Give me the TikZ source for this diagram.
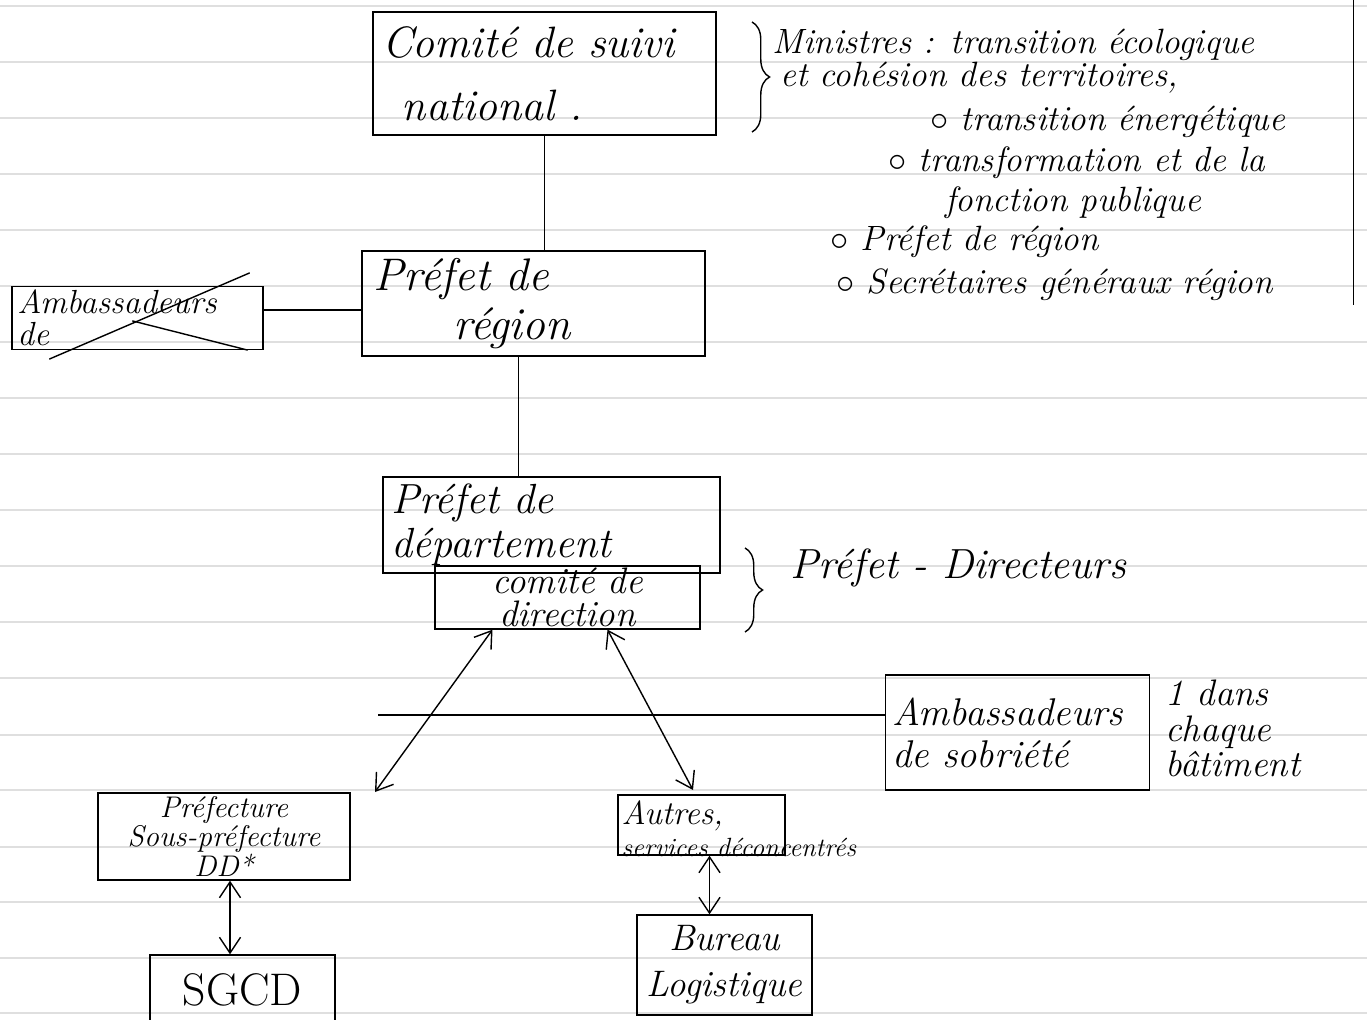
\documentclass[tikz,border=0pt]{standalone}
\usetikzlibrary{arrows.meta,calc,decorations.pathreplacing}

\begin{document}
\begin{tikzpicture}[
        x=0.02cm, y=-0.02cm,
        box/.style={draw,thick,inner sep=4pt,font=\itshape\fontsize{24}{26}\selectfont},
        note/.style={anchor=west,inner sep=0pt,font=\itshape\fontsize{20}{22}\selectfont},
        link/.style={thick},
        both/.style={thick,{Straight Barb[length=9pt,width=12pt]}-{Straight Barb[length=9pt,width=12pt]}},
        rule/.style={draw=gray!25,line width=0.6pt},
        brace/.style={thick,decorate,decoration={brace,amplitude=10pt}},
        ]
    % ruled paper
    \useasboundingbox (0,0) rectangle (1367,1020);
    \foreach \y in {6,62,118,174,230,286,342,398,454,510,566,622,678,735,790,847,902,958,1013}
        \draw[rule] (0,\y) -- (1367,\y);
    \draw[thin] (1353,0) -- (1353,305);

    % boxes
    \node (comite) [box,minimum width=343*0.02cm,minimum height=123*0.02cm,
        text width=325*0.02cm,align=left,font=\itshape\fontsize{25}{36}\selectfont]
        at (544.5,73.5) {Comité de suivi\\\hspace*{0.4cm}national .};
    \node (pregion) [box,minimum width=343*0.02cm,minimum height=83*0.02cm,
        text width=320*0.02cm,align=left,font=\itshape\fontsize{26}{28}\selectfont]
        at (533.5,303.5) {Préfet de\\\hspace*{1.6cm}région};
    \node (amb) [box,minimum width=251*0.02cm,minimum height=60*0.02cm,
        text width=240*0.02cm,align=left,inner sep=2pt,font=\itshape\fontsize{19}{18}\selectfont]
        at (137.5,318) {Ambassadeurs\\de};
    \node (pdep) [box,minimum width=337*0.02cm,minimum height=90*0.02cm,
        text width=320*0.02cm,align=left,font=\itshape\fontsize{24}{25}\selectfont]
        at (551.5,525) {Préfet de\\département\\[10pt]};
    \node (codir) [box,minimum width=265*0.02cm,minimum height=55*0.02cm,
        align=center,inner sep=1pt,font=\itshape\fontsize{21}{19}\selectfont]
        at (567.5,597.5) {comité de\\direction};
    \node (sobriete) [box,minimum width=259*0.02cm,minimum height=115*0.02cm,
        text width=250*0.02cm,align=left,font=\itshape\fontsize{22}{24}\selectfont]
        at (1017.5,732.5) {Ambassadeurs\\de sobriété\\[0.7cm]};
    \node (prefecture) [box,minimum width=252*0.02cm,minimum height=87*0.02cm,
        align=center,inner sep=0pt,font=\itshape\fontsize{17}{15}\selectfont]
        at (224,836.5) {Préfecture\\Sous-préfecture\\DD*};
    \node (autres) [box,minimum width=167*0.02cm,minimum height=60*0.02cm] at (701.5,825) {};
    \node (autrestxt) [anchor=north west,inner sep=0pt,align=left,
        font=\itshape\fontsize{15}{18}\selectfont]
        at ($(autres.north west)+(4,6)$) {\fontsize{19}{18}\selectfont Autres,\\services déconcentrés};
    \node (sgcd) [box,minimum width=185*0.02cm,minimum height=70*0.02cm,
        font=\fontsize{26}{28}\selectfont] at (242.5,990) {SGCD};
    \node (bureau) [box,minimum width=175*0.02cm,minimum height=100*0.02cm,
        align=center,font=\itshape\fontsize{21}{26}\selectfont]
        at (724.5,965) {Bureau\\Logistique};

    % the crossed out box
    \draw[link] ($(amb.south west)+(38,9)$) -- ($(amb.north east)+(-14,-13)$);
    \draw[link] ($(amb.north west)+(121,35)$) -- ($(amb.south east)+(-16,0)$);

    % notes
    \draw[brace] (752,22) -- (752,132);
    \node (min1) [note] at (772,45) {Ministres : transition écologique};
    \node (min2) [note] at (780,78) {et cohésion des territoires,};
    \node (min3) [note] at (930,122) {$\circ$ transition énergétique};
    \node (min4) [note] at (888,163) {$\circ$ transformation et de la};
    \node (min5) [note] at (945,203) {fonction publique};
    \node (min6) [note] at (830,242) {$\circ$ Préfet de région};
    \node (min7) [note] at (836,285) {$\circ$ Secrétaires généraux région};

    \draw[brace] (745,548) -- (745,632);
    \node (dir) [note,font=\itshape\fontsize{24}{26}\selectfont] at (790,568) {Préfet - Directeurs};
    \node (bat) [note,anchor=north west,align=left,font=\itshape\fontsize{21}{20}\selectfont]
        at (1165,680) {1 dans\\chaque\\bâtiment};

    % connectors
    \coordinate (dl) at (375,792);
    \coordinate (dr) at (693,790);
    \coordinate (hl) at (378,715);
    \draw[link] (comite.south) -- (comite.south |- pregion.north);
    \draw[link] (amb.east |- 0,310) -- (pregion.west |- 0,310);
    \draw[link] ($(pregion.south)+(-15,0)$) -- ($(pregion.south |- pdep.north)+(-15,0)$);
    \draw[both] ($(codir.south)+(-75,0)$) -- (dl);
    \draw[both] ($(codir.south)+(40,0)$) -- (dr);
    \draw[link] (hl) -- (hl -| sobriete.west);
    \draw[both] ($(prefecture.south)+(6,0)$) -- ($(prefecture.south |- sgcd.north)+(6,0)$);
    \draw[both] ($(autres.south)+(8,0)$) -- ($(autres.south |- bureau.north)+(8,0)$);
\end{tikzpicture}
\end{document}
